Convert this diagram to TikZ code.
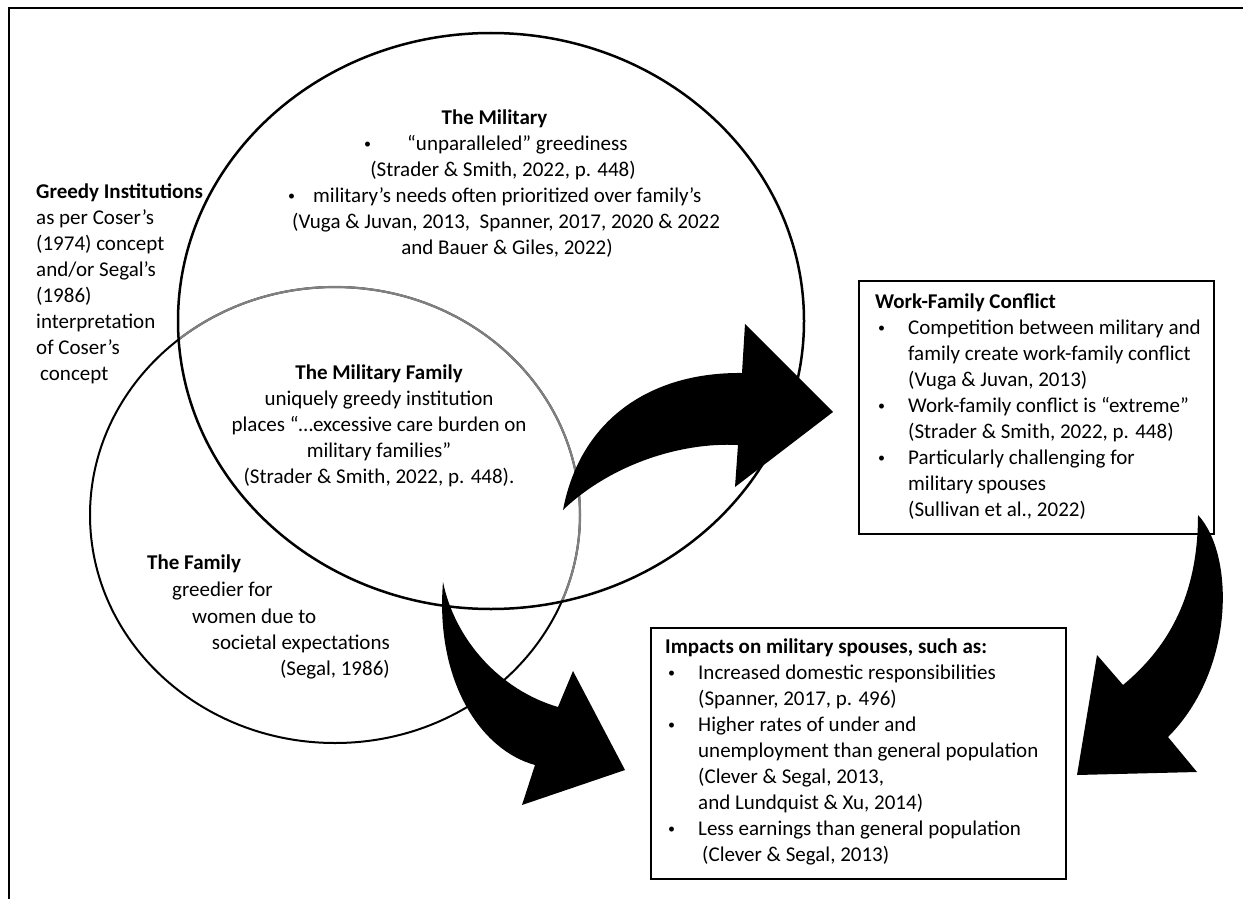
\documentclass[tikz,border=0pt]{standalone}
\usepackage{fontspec}
\setmainfont{Carlito}
\newcommand\bdot{\raisebox{2pt}{\fontsize{14}{14}\selectfont •}}
\newcommand\bul{\makebox[33pt][l]{\hspace{3pt}\bdot}}
\newcommand\ind{\hspace*{33pt}}
\begin{document}
\begin{tikzpicture}[x=1pt,y=-1pt,
  txt/.style={inner sep=0pt, font=\fontsize{21}{26}\selectfont},
  boxframe/.style={draw, line width=2.2pt, inner sep=0pt, anchor=north west},
  circline/.style={line width=2pt},
  blockarrow/.style={fill=black}]
\useasboundingbox (0,0) rectangle (1243,899);
\fill[white] (0,0) rectangle (1243,899);
\draw[line width=2pt] (9,899) -- (9,8) -- (1243,8);

% circles
\draw[circline] (335,515) ellipse [x radius=245, y radius=228];
\begin{scope}
  \clip (491,321) ellipse [x radius=313, y radius=288];
  \draw[circline, line width=2.2pt, gray] (335,515) ellipse [x radius=245, y radius=228];
\end{scope}
\draw[circline, line width=2.5pt] (491,321) ellipse [x radius=313, y radius=288];

% boxes
\node[boxframe, minimum width=355pt, minimum height=253pt] (wfbox) at (858,280) {};
\node[boxframe, minimum width=415pt, minimum height=251pt] (impbox) at (650,627) {};

% block arrows
\fill[blockarrow] (563,510) .. controls (580,420) and (650,372) .. (742,373)
  -- (745,324) -- (833,412) -- (735,487) -- (738,445)
  .. controls (680,442) and (610,465) .. (563,510) -- cycle;
\fill[blockarrow] (443,582) .. controls (455,640) and (500,690) .. (558,707)
  -- (573,671) -- (625,770) -- (522,805) -- (535,765)
  .. controls (480,750) and (435,680) .. (443,582) -- cycle;
\fill[blockarrow] (1198,515) .. controls (1235,555) and (1235,670) .. (1168,737)
  -- (1197,772) -- (1077,775) -- (1097,655) -- (1123,685)
  .. controls (1165,650) and (1198,600) .. (1198,515) -- cycle;

% texts
\node[txt, anchor=north west, align=left] (greedy) at (36,180) {\strut\textbf{Greedy Institutions}\\as per Coser’s\\(1974) concept\\and/or Segal’s\\(1986)\\interpretation\\of Coser’s\\\hspace*{4pt}concept};

\node[txt, anchor=base] (mil1) at (494.5,124.5) {\textbf{The Military}};
\node[txt, anchor=base west] (mil2b) at (364,150.5) {\bdot};
\node[txt, anchor=base west] (mil2) at (407,150.5) {“unparalleled” greediness};
\node[txt, anchor=base] (mil3) at (503,176.5) {(Strader \& Smith, 2022, p. 448)};
\node[txt, anchor=base west] (mil4b) at (288,202.5) {\bdot};
\node[txt, anchor=base west] (mil4) at (313,202.5) {military’s needs often prioritized over family’s};
\node[txt, anchor=base west] (mil5) at (292,228.5) {(Vuga \& Juvan, 2013,\ \ Spanner, 2017, 2020 \& 2022};
\node[txt, anchor=base] (mil6) at (507,254.5) {and Bauer \& Giles, 2022)};

\node[txt, anchor=north, align=center] (milfam) at (379,361) {\strut\textbf{The Military Family}\\uniquely greedy institution\\places “…excessive care burden on\\military families”\\(Strader \& Smith, 2022, p. 448).};

\node[txt, anchor=base west] (fam1) at (147,569.5) {\textbf{The Family}};
\node[txt, anchor=base west] (fam2) at (172,596.5) {greedier for};
\node[txt, anchor=base west] (fam3) at (192,623.5) {women due to};
\node[txt, anchor=base east] (fam4) at (390,649.5) {societal expectations};
\node[txt, anchor=base east] (fam5) at (390,675.5) {(Segal, 1986)};

\node[txt, anchor=north west, align=left] (wftext) at (875,290) {\strut\textbf{Work-Family Conflict}\\
\bul Competition between military and\\
\ind family create work-family conflict\\
\ind (Vuga \& Juvan, 2013)\\
\bul Work-family conflict is “extreme”\\
\ind (Strader \& Smith, 2022, p. 448)\\
\bul Particularly challenging for\\
\ind military spouses\\
\ind (Sullivan et al., 2022)};

\node[txt, anchor=north west, align=left] (imptext) at (665,635) {\strut\textbf{Impacts on military spouses, such as:}\\
\bul Increased domestic responsibilities\\
\ind (Spanner, 2017, p. 496)\\
\bul Higher rates of under and\\
\ind unemployment than general population\\
\ind (Clever \& Segal, 2013,\\
\ind and Lundquist \& Xu, 2014)\\
\bul Less earnings than general population\\
\ind\hspace*{4pt}(Clever \& Segal, 2013)};
\end{tikzpicture}
\end{document}
